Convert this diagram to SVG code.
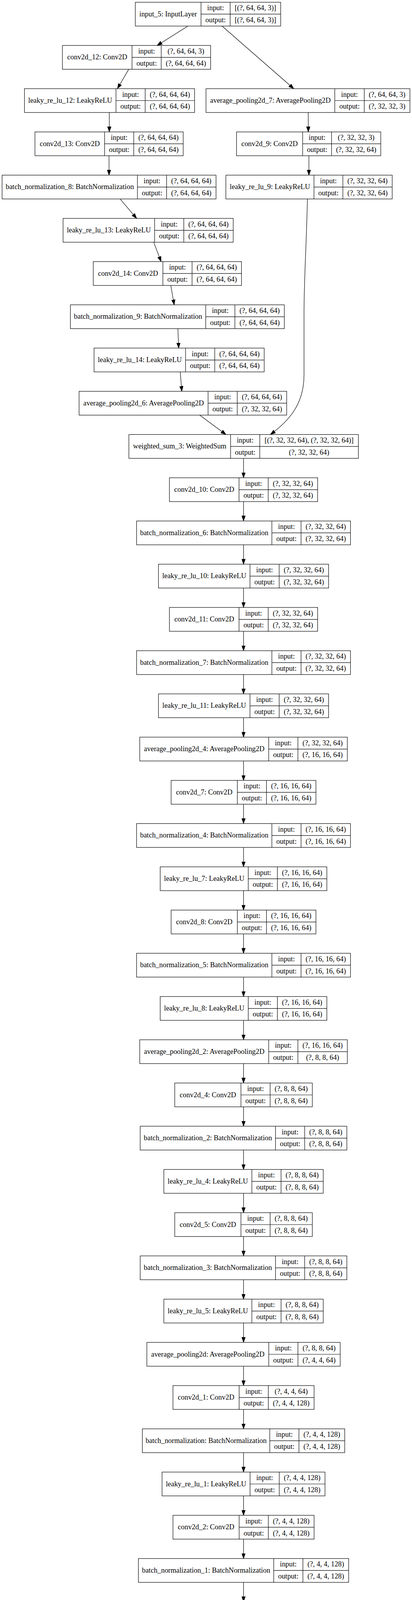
<svg xmlns="http://www.w3.org/2000/svg" width="1055" height="4389" viewBox="0 0 1055 4389">
<style>
.b{fill:none;stroke:#000;stroke-width:1.2}
text{font-family:"Liberation Serif","Times New Roman",serif;font-size:18.4px;text-anchor:middle;fill:#000}
.e{fill:none;stroke:#000;stroke-width:1.2;marker-end:url(#a)}
</style>
<defs>
<marker id="a" markerUnits="userSpaceOnUse" markerWidth="14" markerHeight="10" viewBox="0 0 14 10" refX="13.3" refY="5" orient="auto">
<path d="M0,0.35 L13.3,5 L0,9.65 Z" fill="#000" stroke="#000" stroke-width="1"/>
</marker>
</defs>
<rect width="1055" height="4389" fill="#fff"/>
<g id="edges">
<path class="e" d="M481.1,66.7 L402.3,116.4"/>
<path class="e" d="M568.6,66.7 L752.2,227"/>
<path class="e" d="M329.6,177.4 L300.7,227"/>
<path class="e" d="M279.9,288 V337.7"/>
<path class="e" d="M789.3,288 L789.5,337.7"/>
<path class="e" d="M279.2,398.7 V448.4"/>
<path class="e" d="M791,398.7 L791,448.4"/>
<path class="e" d="M307.5,509.4 L349.9,559.1"/>
<path class="e" d="M393.6,620.1 L412.5,669.7"/>
<path class="e" d="M437.3,730.7 L446.1,780.4"/>
<path class="e" d="M455.5,841.4 L457.5,891.1"/>
<path class="e" d="M461.5,952.1 L465.5,1001.7"/>
<path class="e" d="M511.4,1062.7 L578.6,1112.4"/>
<path class="e" d="M787.3,509.4 C784,640 778.5,720 778.5,800 L778.5,960 C778.5,1030 745,1074 692.4,1112.4"/>
<path class="e" d="M623.6,1173.4 V1223.1"/>
<path class="e" d="M623.6,1284.1 V1333.7"/>
<path class="e" d="M623.6,1394.7 V1444.4"/>
<path class="e" d="M623.6,1505.4 V1555.1"/>
<path class="e" d="M623.6,1616.1 V1665.8"/>
<path class="e" d="M623.6,1726.8 V1776.4"/>
<path class="e" d="M623.6,1837.4 V1887.1"/>
<path class="e" d="M623.6,1948.1 V1997.8"/>
<path class="e" d="M623.6,2058.8 V2108.4"/>
<path class="e" d="M623.6,2169.4 V2219.1"/>
<path class="e" d="M623.6,2280.1 V2329.8"/>
<path class="e" d="M623.6,2390.8 V2440.4"/>
<path class="e" d="M623.6,2501.4 V2551.1"/>
<path class="e" d="M623.6,2612.1 V2661.8"/>
<path class="e" d="M623.6,2722.8 V2772.5"/>
<path class="e" d="M623.6,2833.5 V2883.1"/>
<path class="e" d="M623.6,2944.1 V2993.8"/>
<path class="e" d="M623.6,3054.8 V3104.5"/>
<path class="e" d="M623.6,3165.5 V3215.1"/>
<path class="e" d="M623.6,3276.1 V3325.8"/>
<path class="e" d="M623.6,3386.8 V3436.5"/>
<path class="e" d="M623.6,3497.5 V3547.1"/>
<path class="e" d="M623.6,3608.1 V3657.8"/>
<path class="e" d="M623.6,3718.8 V3768.5"/>
<path class="e" d="M623.6,3829.5 V3879.2"/>
<path class="e" d="M623.6,3940.2 V3989.8"/>
<path class="e" d="M623.6,4050.8 V4100.5"/>
<path class="e" d="M623.6,4161.5 V4211.2"/>
<path class="e" d="M623.6,4272.2 V4321.8"/>
</g>

<g id="input_5" transform="translate(346.5,5.7)"><rect class="b" width="372.2" height="61"/><path class="b" d="M168.2,0V61M242.9,0V61M168.2,30.5H372.2"/><text x="84.1" y="36">input_5: InputLayer</text><text x="205.55" y="20.7">input:</text><text x="205.55" y="51.4">output:</text><text x="307.55" y="20.7">[(?, 64, 64, 3)]</text><text x="307.55" y="51.4">[(?, 64, 64, 3)]</text></g>

<g id="conv2d_12" transform="translate(159.8,116.4)"><rect class="b" width="379.6" height="61"/><path class="b" d="M178.3,0V61M253,0V61M178.3,30.5H379.6"/><text x="89.15" y="36">conv2d_12: Conv2D</text><text x="215.65" y="20.7">input:</text><text x="215.65" y="51.4">output:</text><text x="316.3" y="20.7">(?, 64, 64, 3)</text><text x="316.3" y="51.4">(?, 64, 64, 64)</text></g>

<g id="leaky_re_lu_12" transform="translate(62.6,227)"><rect class="b" width="435.7" height="61"/><path class="b" d="M234.4,0V61M309.1,0V61M234.4,30.5H435.7"/><text x="117.2" y="36">leaky_re_lu_12: LeakyReLU</text><text x="271.75" y="20.7">input:</text><text x="271.75" y="51.4">output:</text><text x="372.4" y="20.7">(?, 64, 64, 64)</text><text x="372.4" y="51.4">(?, 64, 64, 64)</text></g>

<g id="average_pooling2d_7" transform="translate(527.5,227)"><rect class="b" width="522.2" height="61"/><path class="b" d="M329.8,0V61M405.2,0V61M329.8,30.5H522.2"/><text x="164.9" y="36">average_pooling2d_7: AveragePooling2D</text><text x="367.5" y="20.7">input:</text><text x="367.5" y="51.4">output:</text><text x="463.7" y="20.7">(?, 64, 64, 3)</text><text x="463.7" y="51.4">(?, 32, 32, 3)</text></g>

<g id="conv2d_13" transform="translate(89.5,337.7)"><rect class="b" width="379.6" height="61"/><path class="b" d="M178.3,0V61M253,0V61M178.3,30.5H379.6"/><text x="89.15" y="36">conv2d_13: Conv2D</text><text x="215.65" y="20.7">input:</text><text x="215.65" y="51.4">output:</text><text x="316.3" y="20.7">(?, 64, 64, 64)</text><text x="316.3" y="51.4">(?, 64, 64, 64)</text></g>

<g id="conv2d_9" transform="translate(605.6,337.7)"><rect class="b" width="369.4" height="61"/><path class="b" d="M169.4,0V61M243.4,0V61M169.4,30.5H369.4"/><text x="84.7" y="36">conv2d_9: Conv2D</text><text x="206.4" y="20.7">input:</text><text x="206.4" y="51.4">output:</text><text x="306.4" y="20.7">(?, 32, 32, 3)</text><text x="306.4" y="51.4">(?, 32, 32, 64)</text></g>

<g id="batch_normalization_8" transform="translate(5.4,448.4)"><rect class="b" width="547.8" height="61"/><path class="b" d="M346.5,0V61M421.2,0V61M346.5,30.5H547.8"/><text x="173.25" y="36">batch_normalization_8: BatchNormalization</text><text x="383.85" y="20.7">input:</text><text x="383.85" y="51.4">output:</text><text x="484.5" y="20.7">(?, 64, 64, 64)</text><text x="484.5" y="51.4">(?, 64, 64, 64)</text></g>

<g id="leaky_re_lu_9" transform="translate(578.4,448.4)"><rect class="b" width="425.9" height="61"/><path class="b" d="M225.6,0V61M299.6,0V61M225.6,30.5H425.9"/><text x="112.8" y="36">leaky_re_lu_9: LeakyReLU</text><text x="262.6" y="20.7">input:</text><text x="262.6" y="51.4">output:</text><text x="362.75" y="20.7">(?, 32, 32, 64)</text><text x="362.75" y="51.4">(?, 32, 32, 64)</text></g>

<g id="leaky_re_lu_13" transform="translate(161.5,559.1)"><rect class="b" width="435.7" height="61"/><path class="b" d="M234.4,0V61M309.1,0V61M234.4,30.5H435.7"/><text x="117.2" y="36">leaky_re_lu_13: LeakyReLU</text><text x="271.75" y="20.7">input:</text><text x="271.75" y="51.4">output:</text><text x="372.4" y="20.7">(?, 64, 64, 64)</text><text x="372.4" y="51.4">(?, 64, 64, 64)</text></g>

<g id="conv2d_14" transform="translate(238.8,669.7)"><rect class="b" width="379.6" height="61"/><path class="b" d="M178.3,0V61M253,0V61M178.3,30.5H379.6"/><text x="89.15" y="36">conv2d_14: Conv2D</text><text x="215.65" y="20.7">input:</text><text x="215.65" y="51.4">output:</text><text x="316.3" y="20.7">(?, 64, 64, 64)</text><text x="316.3" y="51.4">(?, 64, 64, 64)</text></g>

<g id="batch_normalization_9" transform="translate(180.3,780.4)"><rect class="b" width="547.8" height="61"/><path class="b" d="M346.5,0V61M421.2,0V61M346.5,30.5H547.8"/><text x="173.25" y="36">batch_normalization_9: BatchNormalization</text><text x="383.85" y="20.7">input:</text><text x="383.85" y="51.4">output:</text><text x="484.5" y="20.7">(?, 64, 64, 64)</text><text x="484.5" y="51.4">(?, 64, 64, 64)</text></g>

<g id="leaky_re_lu_14" transform="translate(240.8,891.1)"><rect class="b" width="435.7" height="61"/><path class="b" d="M234.4,0V61M309.1,0V61M234.4,30.5H435.7"/><text x="117.2" y="36">leaky_re_lu_14: LeakyReLU</text><text x="271.75" y="20.7">input:</text><text x="271.75" y="51.4">output:</text><text x="372.4" y="20.7">(?, 64, 64, 64)</text><text x="372.4" y="51.4">(?, 64, 64, 64)</text></g>

<g id="average_pooling2d_6" transform="translate(202.5,1001.7)"><rect class="b" width="531.6" height="61"/><path class="b" d="M330.3,0V61M405,0V61M330.3,30.5H531.6"/><text x="165.15" y="36">average_pooling2d_6: AveragePooling2D</text><text x="367.65" y="20.7">input:</text><text x="367.65" y="51.4">output:</text><text x="468.3" y="20.7">(?, 64, 64, 64)</text><text x="468.3" y="51.4">(?, 32, 32, 64)</text></g>

<g id="weighted_sum_3" transform="translate(330,1112.4)"><rect class="b" width="587.7" height="61"/><path class="b" d="M260.5,0V61M335.2,0V61M260.5,30.5H587.7"/><text x="130.25" y="36">weighted_sum_3: WeightedSum</text><text x="297.85" y="20.7">input:</text><text x="297.85" y="51.4">output:</text><text x="461.45" y="20.7">[(?, 32, 32, 64), (?, 32, 32, 64)]</text><text x="461.45" y="51.4">(?, 32, 32, 64)</text></g>

<g id="conv2d_10" transform="translate(433.8,1223.1)"><rect class="b" width="379.6" height="61"/><path class="b" d="M178.3,0V61M253,0V61M178.3,30.5H379.6"/><text x="89.15" y="36">conv2d_10: Conv2D</text><text x="215.65" y="20.7">input:</text><text x="215.65" y="51.4">output:</text><text x="316.3" y="20.7">(?, 32, 32, 64)</text><text x="316.3" y="51.4">(?, 32, 32, 64)</text></g>

<g id="batch_normalization_6" transform="translate(349.7,1333.7)"><rect class="b" width="547.8" height="61"/><path class="b" d="M346.5,0V61M421.2,0V61M346.5,30.5H547.8"/><text x="173.25" y="36">batch_normalization_6: BatchNormalization</text><text x="383.85" y="20.7">input:</text><text x="383.85" y="51.4">output:</text><text x="484.5" y="20.7">(?, 32, 32, 64)</text><text x="484.5" y="51.4">(?, 32, 32, 64)</text></g>

<g id="leaky_re_lu_10" transform="translate(405.75,1444.4)"><rect class="b" width="435.7" height="61"/><path class="b" d="M234.4,0V61M309.1,0V61M234.4,30.5H435.7"/><text x="117.2" y="36">leaky_re_lu_10: LeakyReLU</text><text x="271.75" y="20.7">input:</text><text x="271.75" y="51.4">output:</text><text x="372.4" y="20.7">(?, 32, 32, 64)</text><text x="372.4" y="51.4">(?, 32, 32, 64)</text></g>

<g id="conv2d_11" transform="translate(433.8,1555.1)"><rect class="b" width="379.6" height="61"/><path class="b" d="M178.3,0V61M253,0V61M178.3,30.5H379.6"/><text x="89.15" y="36">conv2d_11: Conv2D</text><text x="215.65" y="20.7">input:</text><text x="215.65" y="51.4">output:</text><text x="316.3" y="20.7">(?, 32, 32, 64)</text><text x="316.3" y="51.4">(?, 32, 32, 64)</text></g>

<g id="batch_normalization_7" transform="translate(349.7,1665.8)"><rect class="b" width="547.8" height="61"/><path class="b" d="M346.5,0V61M421.2,0V61M346.5,30.5H547.8"/><text x="173.25" y="36">batch_normalization_7: BatchNormalization</text><text x="383.85" y="20.7">input:</text><text x="383.85" y="51.4">output:</text><text x="484.5" y="20.7">(?, 32, 32, 64)</text><text x="484.5" y="51.4">(?, 32, 32, 64)</text></g>

<g id="leaky_re_lu_11" transform="translate(405.75,1776.4)"><rect class="b" width="435.7" height="61"/><path class="b" d="M234.4,0V61M309.1,0V61M234.4,30.5H435.7"/><text x="117.2" y="36">leaky_re_lu_11: LeakyReLU</text><text x="271.75" y="20.7">input:</text><text x="271.75" y="51.4">output:</text><text x="372.4" y="20.7">(?, 32, 32, 64)</text><text x="372.4" y="51.4">(?, 32, 32, 64)</text></g>

<g id="average_pooling2d_4" transform="translate(357.8,1887.1)"><rect class="b" width="531.6" height="61"/><path class="b" d="M330.3,0V61M405,0V61M330.3,30.5H531.6"/><text x="165.15" y="36">average_pooling2d_4: AveragePooling2D</text><text x="367.65" y="20.7">input:</text><text x="367.65" y="51.4">output:</text><text x="468.3" y="20.7">(?, 32, 32, 64)</text><text x="468.3" y="51.4">(?, 16, 16, 64)</text></g>

<g id="conv2d_7" transform="translate(438.2,1997.8)"><rect class="b" width="370.8" height="61"/><path class="b" d="M169.5,0V61M244.2,0V61M169.5,30.5H370.8"/><text x="84.75" y="36">conv2d_7: Conv2D</text><text x="206.85" y="20.7">input:</text><text x="206.85" y="51.4">output:</text><text x="307.5" y="20.7">(?, 16, 16, 64)</text><text x="307.5" y="51.4">(?, 16, 16, 64)</text></g>

<g id="batch_normalization_4" transform="translate(349.7,2108.4)"><rect class="b" width="547.8" height="61"/><path class="b" d="M346.5,0V61M421.2,0V61M346.5,30.5H547.8"/><text x="173.25" y="36">batch_normalization_4: BatchNormalization</text><text x="383.85" y="20.7">input:</text><text x="383.85" y="51.4">output:</text><text x="484.5" y="20.7">(?, 16, 16, 64)</text><text x="484.5" y="51.4">(?, 16, 16, 64)</text></g>

<g id="leaky_re_lu_7" transform="translate(410.25,2219.1)"><rect class="b" width="426.7" height="61"/><path class="b" d="M225.4,0V61M300.1,0V61M225.4,30.5H426.7"/><text x="112.7" y="36">leaky_re_lu_7: LeakyReLU</text><text x="262.75" y="20.7">input:</text><text x="262.75" y="51.4">output:</text><text x="363.4" y="20.7">(?, 16, 16, 64)</text><text x="363.4" y="51.4">(?, 16, 16, 64)</text></g>

<g id="conv2d_8" transform="translate(438.2,2329.8)"><rect class="b" width="370.8" height="61"/><path class="b" d="M169.5,0V61M244.2,0V61M169.5,30.5H370.8"/><text x="84.75" y="36">conv2d_8: Conv2D</text><text x="206.85" y="20.7">input:</text><text x="206.85" y="51.4">output:</text><text x="307.5" y="20.7">(?, 16, 16, 64)</text><text x="307.5" y="51.4">(?, 16, 16, 64)</text></g>

<g id="batch_normalization_5" transform="translate(349.7,2440.4)"><rect class="b" width="547.8" height="61"/><path class="b" d="M346.5,0V61M421.2,0V61M346.5,30.5H547.8"/><text x="173.25" y="36">batch_normalization_5: BatchNormalization</text><text x="383.85" y="20.7">input:</text><text x="383.85" y="51.4">output:</text><text x="484.5" y="20.7">(?, 16, 16, 64)</text><text x="484.5" y="51.4">(?, 16, 16, 64)</text></g>

<g id="leaky_re_lu_8" transform="translate(410.25,2551.1)"><rect class="b" width="426.7" height="61"/><path class="b" d="M225.4,0V61M300.1,0V61M225.4,30.5H426.7"/><text x="112.7" y="36">leaky_re_lu_8: LeakyReLU</text><text x="262.75" y="20.7">input:</text><text x="262.75" y="51.4">output:</text><text x="363.4" y="20.7">(?, 16, 16, 64)</text><text x="363.4" y="51.4">(?, 16, 16, 64)</text></g>

<g id="average_pooling2d_2" transform="translate(357.8,2661.8)"><rect class="b" width="531.6" height="61"/><path class="b" d="M330.3,0V61M405,0V61M330.3,30.5H531.6"/><text x="165.15" y="36">average_pooling2d_2: AveragePooling2D</text><text x="367.65" y="20.7">input:</text><text x="367.65" y="51.4">output:</text><text x="468.3" y="20.7">(?, 16, 16, 64)</text><text x="468.3" y="51.4">(?, 8, 8, 64)</text></g>

<g id="conv2d_4" transform="translate(447.5,2772.5)"><rect class="b" width="352.2" height="61"/><path class="b" d="M169.5,0V61M244.2,0V61M169.5,30.5H352.2"/><text x="84.75" y="36">conv2d_4: Conv2D</text><text x="206.85" y="20.7">input:</text><text x="206.85" y="51.4">output:</text><text x="298.2" y="20.7">(?, 8, 8, 64)</text><text x="298.2" y="51.4">(?, 8, 8, 64)</text></g>

<g id="batch_normalization_2" transform="translate(359,2883.1)"><rect class="b" width="529.2" height="61"/><path class="b" d="M346.5,0V61M421.2,0V61M346.5,30.5H529.2"/><text x="173.25" y="36">batch_normalization_2: BatchNormalization</text><text x="383.85" y="20.7">input:</text><text x="383.85" y="51.4">output:</text><text x="475.2" y="20.7">(?, 8, 8, 64)</text><text x="475.2" y="51.4">(?, 8, 8, 64)</text></g>

<g id="leaky_re_lu_4" transform="translate(419.55,2993.8)"><rect class="b" width="408.1" height="61"/><path class="b" d="M225.4,0V61M300.1,0V61M225.4,30.5H408.1"/><text x="112.7" y="36">leaky_re_lu_4: LeakyReLU</text><text x="262.75" y="20.7">input:</text><text x="262.75" y="51.4">output:</text><text x="354.1" y="20.7">(?, 8, 8, 64)</text><text x="354.1" y="51.4">(?, 8, 8, 64)</text></g>

<g id="conv2d_5" transform="translate(447.5,3104.5)"><rect class="b" width="352.2" height="61"/><path class="b" d="M169.5,0V61M244.2,0V61M169.5,30.5H352.2"/><text x="84.75" y="36">conv2d_5: Conv2D</text><text x="206.85" y="20.7">input:</text><text x="206.85" y="51.4">output:</text><text x="298.2" y="20.7">(?, 8, 8, 64)</text><text x="298.2" y="51.4">(?, 8, 8, 64)</text></g>

<g id="batch_normalization_3" transform="translate(359,3215.1)"><rect class="b" width="529.2" height="61"/><path class="b" d="M346.5,0V61M421.2,0V61M346.5,30.5H529.2"/><text x="173.25" y="36">batch_normalization_3: BatchNormalization</text><text x="383.85" y="20.7">input:</text><text x="383.85" y="51.4">output:</text><text x="475.2" y="20.7">(?, 8, 8, 64)</text><text x="475.2" y="51.4">(?, 8, 8, 64)</text></g>

<g id="leaky_re_lu_5" transform="translate(419.55,3325.8)"><rect class="b" width="408.1" height="61"/><path class="b" d="M225.4,0V61M300.1,0V61M225.4,30.5H408.1"/><text x="112.7" y="36">leaky_re_lu_5: LeakyReLU</text><text x="262.75" y="20.7">input:</text><text x="262.75" y="51.4">output:</text><text x="354.1" y="20.7">(?, 8, 8, 64)</text><text x="354.1" y="51.4">(?, 8, 8, 64)</text></g>

<g id="average_pooling2d" transform="translate(376.05,3436.5)"><rect class="b" width="495.1" height="61"/><path class="b" d="M312.2,0V61M386.9,0V61M312.2,30.5H495.1"/><text x="156.1" y="36">average_pooling2d: AveragePooling2D</text><text x="349.55" y="20.7">input:</text><text x="349.55" y="51.4">output:</text><text x="441" y="20.7">(?, 8, 8, 64)</text><text x="441" y="51.4">(?, 4, 4, 64)</text></g>

<g id="conv2d_1" transform="translate(442.9,3547.1)"><rect class="b" width="361.4" height="61"/><path class="b" d="M169.5,0V61M244.2,0V61M169.5,30.5H361.4"/><text x="84.75" y="36">conv2d_1: Conv2D</text><text x="206.85" y="20.7">input:</text><text x="206.85" y="51.4">output:</text><text x="302.8" y="20.7">(?, 4, 4, 64)</text><text x="302.8" y="51.4">(?, 4, 4, 128)</text></g>

<g id="batch_normalization" transform="translate(364.5,3657.8)"><rect class="b" width="518.2" height="61"/><path class="b" d="M326.3,0V61M401,0V61M326.3,30.5H518.2"/><text x="163.15" y="36">batch_normalization: BatchNormalization</text><text x="363.65" y="20.7">input:</text><text x="363.65" y="51.4">output:</text><text x="459.6" y="20.7">(?, 4, 4, 128)</text><text x="459.6" y="51.4">(?, 4, 4, 128)</text></g>

<g id="leaky_re_lu_1" transform="translate(414.95,3768.5)"><rect class="b" width="417.3" height="61"/><path class="b" d="M225.4,0V61M300.1,0V61M225.4,30.5H417.3"/><text x="112.7" y="36">leaky_re_lu_1: LeakyReLU</text><text x="262.75" y="20.7">input:</text><text x="262.75" y="51.4">output:</text><text x="358.7" y="20.7">(?, 4, 4, 128)</text><text x="358.7" y="51.4">(?, 4, 4, 128)</text></g>

<g id="conv2d_2" transform="translate(442.9,3879.2)"><rect class="b" width="361.4" height="61"/><path class="b" d="M169.5,0V61M244.2,0V61M169.5,30.5H361.4"/><text x="84.75" y="36">conv2d_2: Conv2D</text><text x="206.85" y="20.7">input:</text><text x="206.85" y="51.4">output:</text><text x="302.8" y="20.7">(?, 4, 4, 128)</text><text x="302.8" y="51.4">(?, 4, 4, 128)</text></g>

<g id="batch_normalization_1" transform="translate(354.4,3989.8)"><rect class="b" width="538.4" height="61"/><path class="b" d="M346.5,0V61M421.2,0V61M346.5,30.5H538.4"/><text x="173.25" y="36">batch_normalization_1: BatchNormalization</text><text x="383.85" y="20.7">input:</text><text x="383.85" y="51.4">output:</text><text x="479.8" y="20.7">(?, 4, 4, 128)</text><text x="479.8" y="51.4">(?, 4, 4, 128)</text></g>

<g id="leaky_re_lu_2" transform="translate(414.95,4100.5)"><rect class="b" width="417.3" height="61"/><path class="b" d="M225.4,0V61M300.1,0V61M225.4,30.5H417.3"/><text x="112.7" y="36">leaky_re_lu_2: LeakyReLU</text><text x="262.75" y="20.7">input:</text><text x="262.75" y="51.4">output:</text><text x="358.7" y="20.7">(?, 4, 4, 128)</text><text x="358.7" y="51.4">(?, 4, 4, 128)</text></g>

<g id="flatten" transform="translate(464.5,4211.2)"><rect class="b" width="318.2" height="61"/><path class="b" d="M126.1,0V61M200.8,0V61M126.1,30.5H318.2"/><text x="63.05" y="36">flatten: Flatten</text><text x="163.45" y="20.7">input:</text><text x="163.45" y="51.4">output:</text><text x="259.5" y="20.7">(?, 4, 4, 128)</text><text x="259.5" y="51.4">(?, 2048)</text></g>

<g id="dense" transform="translate(482.25,4321.8)"><rect class="b" width="282.7" height="61"/><path class="b" d="M120,0V61M194.7,0V61M120,30.5H282.7"/><text x="60" y="36">dense: Dense</text><text x="157.35" y="20.7">input:</text><text x="157.35" y="51.4">output:</text><text x="238.7" y="20.7">(?, 2048)</text><text x="238.7" y="51.4">(?, 1)</text></g>
</svg>
